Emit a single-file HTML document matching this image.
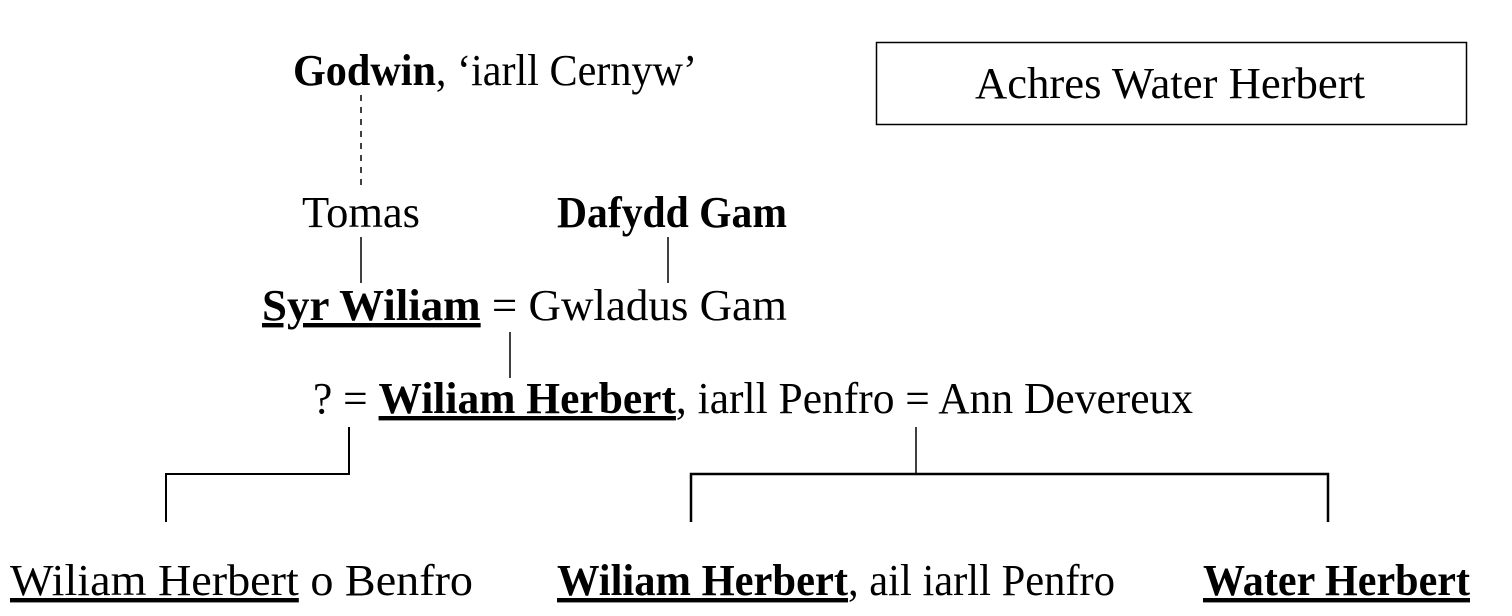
<!DOCTYPE html>
<html><head><meta charset="utf-8"><style>
html,body{margin:0;padding:0;background:#fff;}
svg{display:block;}
text{font-family:"Liberation Serif",serif;font-size:44px;fill:#000;}
.b{font-weight:bold;}
.u{text-decoration:underline;}
</style></head><body>
<svg width="1512" height="616" viewBox="0 0 1512 616" xmlns="http://www.w3.org/2000/svg">
<rect x="876.5" y="42.5" width="590" height="82" fill="none" stroke="#000" stroke-width="1.5"/>
<text x="975" y="98" textLength="390" lengthAdjust="spacingAndGlyphs">Achres Water Herbert</text>

<text x="293" y="85" textLength="404" lengthAdjust="spacingAndGlyphs"><tspan class="b">Godwin</tspan>, ‘iarll Cernyw’</text>
<line x1="361" y1="95" x2="361" y2="188" stroke="#000" stroke-width="1.5" stroke-dasharray="6,6"/>

<text x="302" y="227" textLength="118" lengthAdjust="spacingAndGlyphs">Tomas</text>
<text x="557" y="227" class="b" textLength="230" lengthAdjust="spacingAndGlyphs">Dafydd Gam</text>
<line x1="361" y1="237" x2="361" y2="283" stroke="#000" stroke-width="1.5"/>
<line x1="668" y1="237" x2="668" y2="283" stroke="#000" stroke-width="1.5"/>

<text x="262" y="320" textLength="525" lengthAdjust="spacingAndGlyphs"><tspan class="b u">Syr Wiliam</tspan> = Gwladus Gam</text>
<line x1="510" y1="332" x2="510" y2="378" stroke="#000" stroke-width="1.5"/>

<text x="313" y="413" textLength="880" lengthAdjust="spacingAndGlyphs">? = <tspan class="b u">Wiliam Herbert</tspan>, iarll Penfro = Ann Devereux</text>

<polyline points="349,427 349,474 166,474 166,522" fill="none" stroke="#000" stroke-width="2"/>
<line x1="916" y1="427" x2="916" y2="474" stroke="#000" stroke-width="1.5"/>
<polyline points="691,522 691,474 1328,474 1328,522" fill="none" stroke="#000" stroke-width="2.5"/>

<text x="10" y="595" textLength="463" lengthAdjust="spacingAndGlyphs"><tspan class="u">Wiliam Herbert</tspan> o Benfro</text>
<text x="557" y="595" textLength="558" lengthAdjust="spacingAndGlyphs"><tspan class="b u">Wiliam Herbert</tspan>, ail iarll Penfro</text>
<text x="1203" y="595" class="b u" textLength="267" lengthAdjust="spacingAndGlyphs">Water Herbert</text>
</svg>
</body></html>
